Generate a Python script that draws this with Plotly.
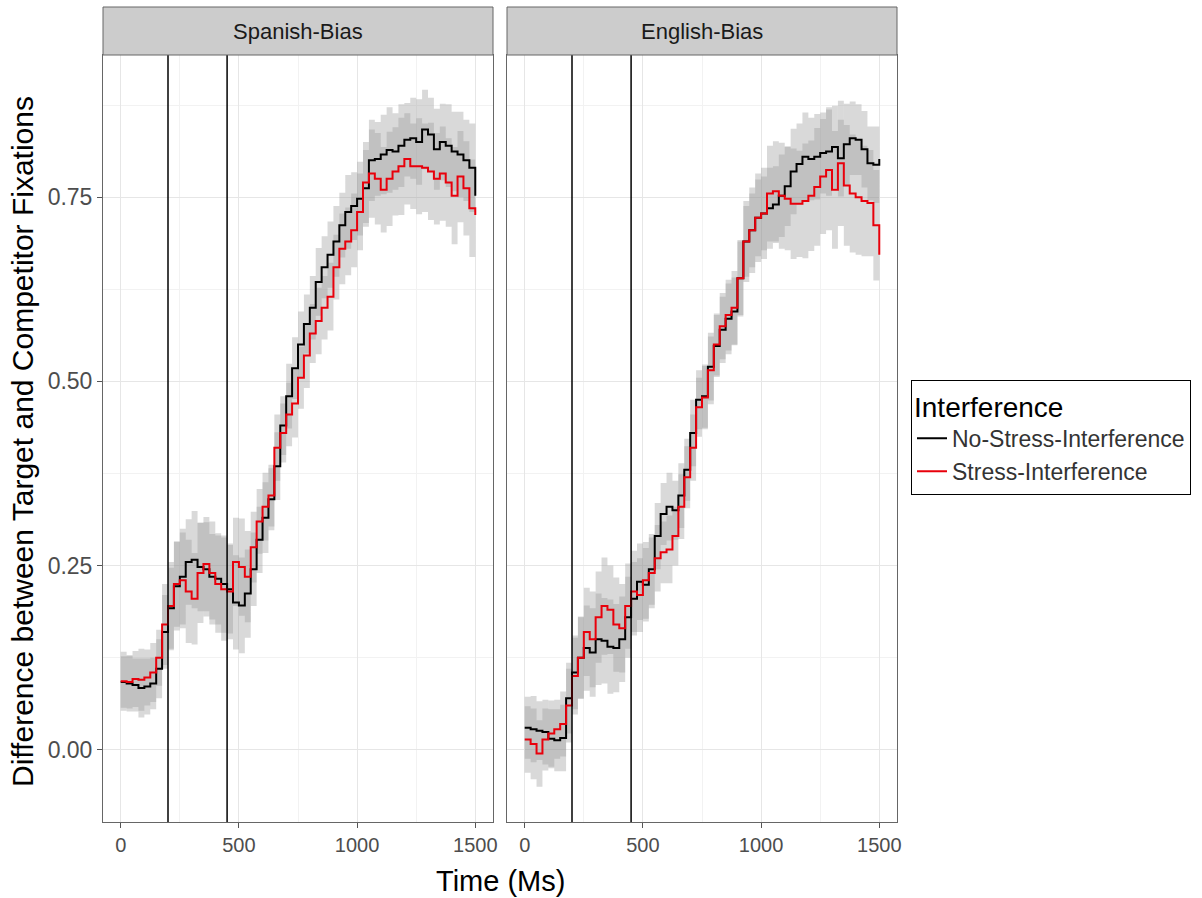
import plotly.graph_objects as go
from plotly.subplots import make_subplots

time_ms = list(range(0, 1501, 25))
panels = ["Spanish-Bias", "English-Bias"]
groups = ["No-Stress-Interference", "Stress-Interference"]
vlines_ms = [200, 450]

spanish_nostress = [0.092, 0.090, 0.088, 0.084, 0.086, 0.090, 0.110, 0.160, 0.192, 0.222, 0.235, 0.255, 0.258, 0.248,
                    0.245, 0.235, 0.232, 0.225, 0.218, 0.200, 0.196, 0.212, 0.245, 0.285, 0.315, 0.340, 0.385, 0.440,
                    0.480, 0.518, 0.550, 0.578, 0.600, 0.635, 0.655, 0.672, 0.690, 0.712, 0.730, 0.738, 0.748, 0.762,
                    0.800, 0.802, 0.808, 0.814, 0.812, 0.820, 0.828, 0.830, 0.825, 0.842, 0.835, 0.815, 0.825, 0.820,
                    0.812, 0.808, 0.800, 0.790, 0.752]
spanish_stress = [0.093, 0.092, 0.096, 0.095, 0.098, 0.105, 0.125, 0.170, 0.195, 0.225, 0.230, 0.215, 0.205, 0.240,
                  0.252, 0.240, 0.225, 0.218, 0.215, 0.255, 0.248, 0.235, 0.275, 0.310, 0.330, 0.345, 0.410, 0.430,
                  0.455, 0.470, 0.505, 0.535, 0.565, 0.582, 0.600, 0.615, 0.655, 0.680, 0.690, 0.705, 0.730, 0.770,
                  0.782, 0.775, 0.760, 0.775, 0.785, 0.792, 0.802, 0.792, 0.792, 0.790, 0.785, 0.775, 0.782, 0.770,
                  0.752, 0.778, 0.762, 0.735, 0.726]
english_nostress = [0.030, 0.028, 0.026, 0.024, 0.015, 0.013, 0.016, 0.070, 0.105, 0.125, 0.138, 0.132, 0.150, 0.148,
                    0.140, 0.138, 0.150, 0.180, 0.205, 0.228, 0.224, 0.245, 0.290, 0.320, 0.330, 0.325, 0.345, 0.380,
                    0.430, 0.475, 0.480, 0.520, 0.548, 0.570, 0.585, 0.595, 0.640, 0.690, 0.705, 0.722, 0.728, 0.735,
                    0.740, 0.752, 0.765, 0.785, 0.795, 0.805, 0.802, 0.805, 0.810, 0.812, 0.818, 0.803, 0.822, 0.830,
                    0.828, 0.815, 0.796, 0.794, 0.802]
english_stress = [0.014, 0.008, -0.005, 0.014, 0.022, 0.028, 0.035, 0.060, 0.100, 0.125, 0.160, 0.150, 0.180, 0.195,
                  0.190, 0.170, 0.165, 0.195, 0.215, 0.210, 0.230, 0.240, 0.260, 0.268, 0.272, 0.290, 0.330, 0.370,
                  0.410, 0.465, 0.478, 0.515, 0.550, 0.575, 0.590, 0.600, 0.640, 0.690, 0.705, 0.722, 0.728, 0.755,
                  0.758, 0.752, 0.748, 0.741, 0.741, 0.745, 0.752, 0.764, 0.778, 0.787, 0.760, 0.796, 0.766, 0.755,
                  0.750, 0.745, 0.742, 0.712, 0.672]

# half-width of the confidence ribbons
spanish_nostress_ci = [0.035, 0.038, 0.036, 0.040, 0.038, 0.035, 0.040,
                       0.050, 0.055, 0.060, 0.065, 0.058, 0.066, 0.060, 0.064, 0.058, 0.062, 0.066, 0.060, 0.064, 0.065, 0.060,
                       0.050, 0.045, 0.048, 0.042, 0.046, 0.040, 0.044, 0.042, 0.045, 0.040, 0.043, 0.046, 0.042, 0.045, 0.048, 0.044, 0.050, 0.046, 0.050,
                       0.052, 0.055, 0.050, 0.054, 0.058, 0.052, 0.056, 0.050, 0.055, 0.058, 0.054, 0.050, 0.055, 0.052, 0.056, 0.054, 0.058, 0.055, 0.060, 0.058]
spanish_stress_ci = [0.040, 0.036, 0.038, 0.042, 0.038, 0.040, 0.038,
                     0.055, 0.060, 0.058, 0.065, 0.070, 0.062, 0.068, 0.064, 0.070, 0.066, 0.070, 0.065, 0.060, 0.066, 0.062,
                     0.048, 0.044, 0.046, 0.042, 0.045, 0.040, 0.043, 0.046, 0.042, 0.044, 0.040, 0.045, 0.043, 0.046, 0.044, 0.048, 0.046, 0.050, 0.052,
                     0.055, 0.060, 0.062, 0.058, 0.064, 0.060, 0.066, 0.062, 0.058, 0.065, 0.060, 0.066, 0.062, 0.064, 0.060, 0.066, 0.062, 0.064, 0.066, 0.068]
english_nostress_ci = [0.042, 0.045, 0.040, 0.044, 0.040, 0.042, 0.045,
                       0.048, 0.050, 0.055, 0.058, 0.060, 0.062, 0.058, 0.064, 0.060, 0.058, 0.055, 0.050, 0.052, 0.050, 0.048,
                       0.045, 0.042, 0.046, 0.040, 0.044, 0.042, 0.045, 0.040, 0.043, 0.046, 0.042, 0.045, 0.048, 0.046, 0.050, 0.048, 0.050, 0.052, 0.050,
                       0.055, 0.052, 0.056, 0.054, 0.058, 0.055, 0.060, 0.056, 0.058, 0.055, 0.060, 0.056, 0.052, 0.055, 0.050, 0.048, 0.052, 0.050, 0.052, 0.050]
english_stress_ci = [0.045, 0.048, 0.045, 0.042, 0.045, 0.040, 0.044,
                     0.050, 0.052, 0.056, 0.060, 0.065, 0.062, 0.066, 0.060, 0.064, 0.060, 0.058, 0.055, 0.050, 0.052, 0.048,
                     0.045, 0.042, 0.046, 0.040, 0.044, 0.042, 0.045, 0.040, 0.043, 0.046, 0.042, 0.045, 0.048, 0.050, 0.052, 0.055, 0.058, 0.060, 0.062,
                     0.065, 0.068, 0.072, 0.070, 0.075, 0.072, 0.078, 0.075, 0.080, 0.078, 0.082, 0.080, 0.085, 0.082, 0.080, 0.078, 0.075, 0.072, 0.075, 0.075]

series = {
    ("Spanish-Bias", "No-Stress-Interference"): (spanish_nostress, spanish_nostress_ci),
    ("Spanish-Bias", "Stress-Interference"): (spanish_stress, spanish_stress_ci),
    ("English-Bias", "No-Stress-Interference"): (english_nostress, english_nostress_ci),
    ("English-Bias", "Stress-Interference"): (english_stress, english_stress_ci),
}
colors = {"No-Stress-Interference": "#000000", "Stress-Interference": "#e8000b"}

FONT = "Liberation Sans, Arial, sans-serif"
W, H = 1202, 898
L, R, T, B = 103, 305, 7, 76
plot_w = W - L - R
plot_h = H - T - B
panel_top_px = 55
y_dom_top = (H - B - panel_top_px) / plot_h

fig = make_subplots(rows=1, cols=2, shared_yaxes=True)

for ci, panel in enumerate(panels):
    col = ci + 1
    for g in groups:
        vals, hw = series[(panel, g)]
        lo = [v - h for v, h in zip(vals, hw)]
        hi = [v + h for v, h in zip(vals, hw)]
        fig.add_trace(go.Scatter(x=time_ms, y=lo, mode="lines", line=dict(width=0, shape="hv"),
                                 showlegend=False, hoverinfo="skip"), row=1, col=col)
        fig.add_trace(go.Scatter(x=time_ms, y=hi, mode="lines", line=dict(width=0, shape="hv"),
                                 fill="tonexty", fillcolor="rgba(150,150,150,0.36)",
                                 showlegend=False, hoverinfo="skip"), row=1, col=col)
    for g in groups:
        vals, hw = series[(panel, g)]
        fig.add_trace(go.Scatter(x=time_ms, y=vals, mode="lines", name=g,
                                 line=dict(color=colors[g], width=2, shape="hv"),
                                 legendgroup=g, showlegend=(ci == 0)), row=1, col=col)

x_doms = [[0, (493 - L) / plot_w], [(507 - L) / plot_w, 1]]
axis_common = dict(showline=True, mirror=True, linecolor="#666666", linewidth=1,
                   ticks="outside", ticklen=5, tickcolor="#555555", tickwidth=1,
                   gridcolor="#e6e6e6", gridwidth=1, zeroline=False)
for i, xa in enumerate(["xaxis", "xaxis2"]):
    fig.layout[xa].update(domain=x_doms[i], range=[-75, 1575], tick0=0, dtick=500,
                          minor=dict(dtick=250, showgrid=True, gridcolor="#f2f2f2", gridwidth=0.6),
                          tickfont=dict(family=FONT, size=20, color="#4d4d4d"),
                          **axis_common)
for i, ya in enumerate(["yaxis", "yaxis2"]):
    fig.layout[ya].update(domain=[0, y_dom_top], range=[-0.098, 0.943], tick0=0, dtick=0.25,
                          tickformat=".2f",
                          minor=dict(dtick=0.125, tick0=0, showgrid=True, gridcolor="#f2f2f2", gridwidth=0.6),
                          tickfont=dict(family=FONT, size=23, color="#4d4d4d"),
                          **axis_common)
fig.layout.yaxis2.update(showticklabels=False, ticks="")

shapes = []
for i, (xr, xd) in enumerate([("x", "x domain"), ("x2", "x2 domain")]):
    for v in vlines_ms:
        shapes.append(dict(type="line", xref=xr, yref="y domain", x0=v, x1=v, y0=0, y1=1,
                           line=dict(color="#000000", width=1.5), layer="above"))
    shapes.append(dict(type="rect", xref=xd, yref="paper", x0=0, x1=1, y0=y_dom_top, y1=1,
                       fillcolor="#cccccc", line=dict(color="#666666", width=1), layer="above"))

annotations = []
for i, panel in enumerate(panels):
    annotations.append(dict(text=panel, xref=("x domain" if i == 0 else "x2 domain"), yref="paper",
                            x=0.5, y=(y_dom_top + 1) / 2, showarrow=False, xanchor="center", yanchor="middle",
                            font=dict(family=FONT, size=22, color="#1a1a1a")))
annotations.append(dict(text="Time (Ms)", xref="paper", yref="paper", x=0.5, y=-(881 - (H - B)) / plot_h,
                        showarrow=False, xanchor="center", yanchor="middle",
                        font=dict(family=FONT, size=29, color="#000000")))
annotations.append(dict(text="Difference between Target and Competitor Fixations", xref="paper", yref="paper",
                        x=-(L - 22) / plot_w, y=((H - B) - 442) / plot_h, textangle=-90,
                        showarrow=False, xanchor="center", yanchor="middle",
                        font=dict(family=FONT, size=30, color="#000000")))

fig.update_layout(
    width=W, height=H,
    margin=dict(l=L, r=R, t=T, b=B),
    paper_bgcolor="white", plot_bgcolor="white",
    shapes=shapes, annotations=annotations,
    showlegend=True,
    legend=dict(title=dict(text="Interference", font=dict(family=FONT, size=28, color="#000000")),
                font=dict(family=FONT, size=23, color="#333333"),
                x=(911 - L) / plot_w, xanchor="left", y=((H - B) - 437) / plot_h, yanchor="middle",
                bordercolor="#000000", borderwidth=1, bgcolor="white",
                tracegroupgap=0, itemwidth=30),
)

fig.write_html("out.html")
